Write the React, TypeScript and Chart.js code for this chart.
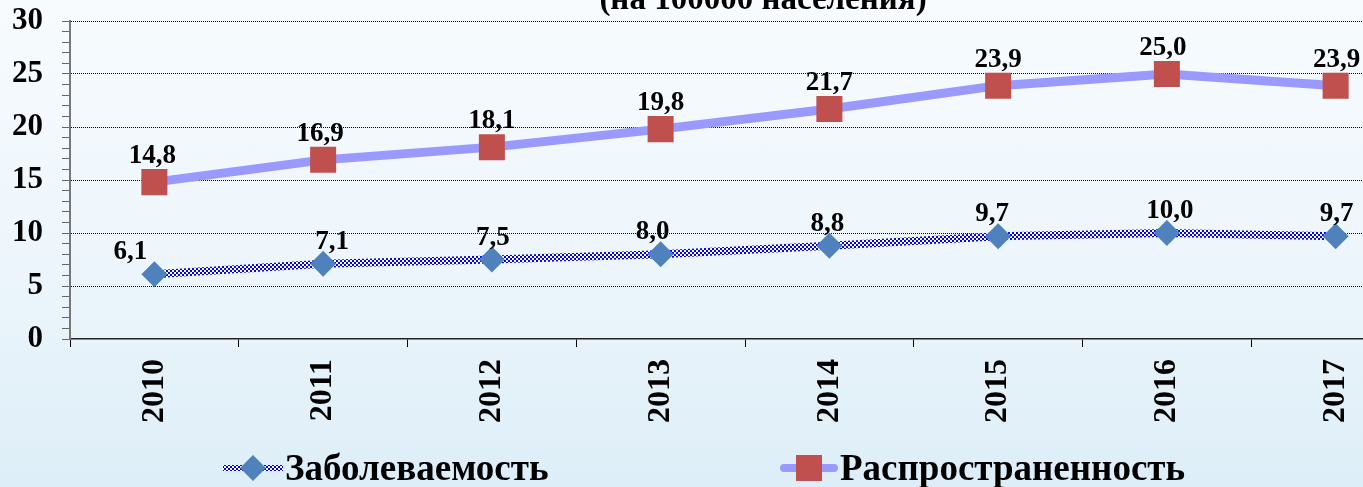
import React, { useEffect, useRef } from 'react';
import { Chart, registerables } from 'chart.js';

Chart.register(...registerables);

// ---- data ----
const years = ['2010', '2011', '2012', '2013', '2014', '2015', '2016', '2017'];
const incidence = [6.1, 7.1, 7.5, 8.0, 8.8, 9.7, 10.0, 9.7];
const prevalence = [14.8, 16.9, 18.1, 19.8, 21.7, 23.9, 25.0, 23.9];
const seriesNames = ['Заболеваемость', 'Распространенность'];
const titleText = '(на 100000 населения)';
const yMin = 0;
const yMax = 30;
const yMajorStep = 5;

// ---- styles ----
const FONT = '"Liberation Serif", "Times New Roman", serif';
const CANVAS_W = 1430;
const CANVAS_H = 487;

function checkerPattern(): CanvasPattern | string {
  const c = document.createElement('canvas');
  c.width = 4;
  c.height = 4;
  const g = c.getContext('2d');
  if (!g) return '#0000FF';
  g.fillStyle = '#ffffff';
  g.fillRect(0, 0, 4, 4);
  g.fillStyle = '#0000FF';
  g.fillRect(0, 0, 2, 2);
  g.fillRect(2, 2, 2, 2);
  return g.createPattern(c, 'repeat') || '#0000FF';
}

const fmt = (v: number) => v.toFixed(1).replace('.', ',');

const labelOffsets = [
  { dy: 15, dx: [-24, 9, 1, -8, -2, -6, 3, 1] },
  { dy: 19, dx: [-2, -3, 0, 0, 0, 0, -4, 1] },
];

const valueLabels = {
  id: 'valueLabels',
  afterDatasetsDraw(chart: any) {
    const ctx = chart.ctx as CanvasRenderingContext2D;
    ctx.save();
    ctx.font = `bold 27px ${FONT}`;
    ctx.fillStyle = '#000';
    ctx.textAlign = 'center';
    ctx.textBaseline = 'alphabetic';
    chart.data.datasets.forEach((ds: any, di: number) => {
      const meta = chart.getDatasetMeta(di);
      const off = labelOffsets[di];
      meta.data.forEach((pt: any, i: number) => {
        ctx.fillText(fmt(ds.data[i]), pt.x + off.dx[i], pt.y - off.dy);
      });
    });
    ctx.restore();
  },
};

const titleAndLegend = {
  id: 'titleAndLegend',
  afterDraw(chart: any) {
    const ctx = chart.ctx as CanvasRenderingContext2D;
    ctx.save();
    // title (cropped at the top in the reference)
    ctx.font = `bold 33px ${FONT}`;
    ctx.fillStyle = '#000';
    ctx.textAlign = 'center';
    ctx.textBaseline = 'alphabetic';
    ctx.fillText(titleText, 763, 9);

    // legend
    const ly = 468;
    const items = [
      { x: 223, w: 60 },
      { x: 780, w: 58 },
    ];
    chart.data.datasets.forEach((ds: any, di: number) => {
      const it = items[di];
      const cx = it.x + it.w / 2;
      ctx.save();
      ctx.strokeStyle = ds.borderColor;
      ctx.lineWidth = di === 0 ? 6 : 8;
      ctx.lineCap = di === 0 ? 'butt' : 'round';
      ctx.beginPath();
      ctx.moveTo(it.x + (di === 0 ? 0 : 4), ly);
      ctx.lineTo(it.x + it.w - (di === 0 ? 0 : 4), ly);
      ctx.stroke();
      ctx.fillStyle = ds.pointBackgroundColor;
      ctx.beginPath();
      if (ds.pointStyle === 'rectRot') {
        const r = ds.pointRadius;
        ctx.moveTo(cx - r, ly);
        ctx.lineTo(cx, ly - r);
        ctx.lineTo(cx + r, ly);
        ctx.lineTo(cx, ly + r);
        ctx.closePath();
      } else {
        const h = ds.pointRadius * Math.SQRT1_2;
        ctx.rect(cx - h, ly - h, 2 * h, 2 * h);
      }
      ctx.fill();
      ctx.restore();
      ctx.font = `bold 37px ${FONT}`;
      ctx.fillStyle = '#000';
      ctx.textAlign = 'left';
      ctx.fillText(ds.label, it.x + it.w + 2, 480);
    });
    ctx.restore();
  },
};

export default function App() {
  const ref = useRef<HTMLCanvasElement | null>(null);

  useEffect(() => {
    if (!ref.current) return;
    const chart = new Chart(ref.current, {
      type: 'line',
      data: {
        labels: years,
        datasets: [
          {
            label: seriesNames[0],
            data: incidence,
            borderColor: checkerPattern() as any,
            borderWidth: 8,
            pointStyle: 'rectRot',
            pointRadius: 13,
            pointHoverRadius: 13,
            pointBackgroundColor: '#4F81BD',
            pointBorderColor: '#4F81BD',
            pointBorderWidth: 0,
            tension: 0,
          },
          {
            label: seriesNames[1],
            data: prevalence,
            borderColor: '#9999FF',
            borderWidth: 9,
            pointStyle: 'rect',
            pointRadius: 18.4,
            pointHoverRadius: 18.4,
            pointBackgroundColor: '#C0504D',
            pointBorderColor: '#C0504D',
            pointBorderWidth: 0,
            tension: 0,
          },
        ] as any,
      },
      options: {
        responsive: false,
        animation: false,
        layout: { autoPadding: false, padding: { left: 12, right: 10, top: 21, bottom: 52 } },
        plugins: {
          legend: { display: false },
          title: { display: false },
          tooltip: { enabled: false },
        },
        scales: {
          x: {
            offset: true,
            grid: {
              offset: true,
              drawOnChartArea: false,
              drawTicks: true,
              tickLength: 8,
              tickColor: '#000',
            },
            border: { display: true, color: '#222', width: 1.5 },
            ticks: {
              minRotation: 90,
              maxRotation: 90,
              padding: 12,
              color: '#000',
              font: { family: FONT, size: 32, weight: 'bold' },
            },
            afterFit: (s: any) => {
              s.paddingLeft = 0;
              s.paddingRight = 0;
            },
          },
          y: {
            min: yMin,
            max: yMax,
            grid: {
              color: (c: any) =>
                c.tick && c.tick.value % yMajorStep === 0 && c.tick.value !== yMin ? '#000' : 'rgba(0,0,0,0)',
              lineWidth: 1,
              tickColor: '#666',
              tickLength: 8,
              drawTicks: true,
            },
            border: { display: true, color: '#777', width: 2, dash: [1, 1] },
            ticks: {
              stepSize: 1,
              autoSkip: false,
              padding: 19,
              color: '#000',
              font: { family: FONT, size: 31, weight: 'bold' },
              callback: (v: any) => (Number(v) % yMajorStep === 0 ? String(v) : ''),
            },
            afterFit: (s: any) => {
              s.width = 58;
              s.paddingTop = 0;
              s.paddingBottom = 0;
            },
          },
        },
      } as any,
      plugins: [valueLabels, titleAndLegend],
    });
    return () => chart.destroy();
  }, []);

  return (
    <div
      style={{
        position: 'fixed',
        left: 0,
        top: 0,
        width: 1363,
        height: 487,
        overflow: 'hidden',
        background: 'linear-gradient(to bottom, #F7FBFE 0%, #EEF6FC 50%, #DDEEF8 100%)',
      }}
    >
      <canvas ref={ref} width={CANVAS_W} height={CANVAS_H} style={{ display: 'block' }} />
    </div>
  );
}
